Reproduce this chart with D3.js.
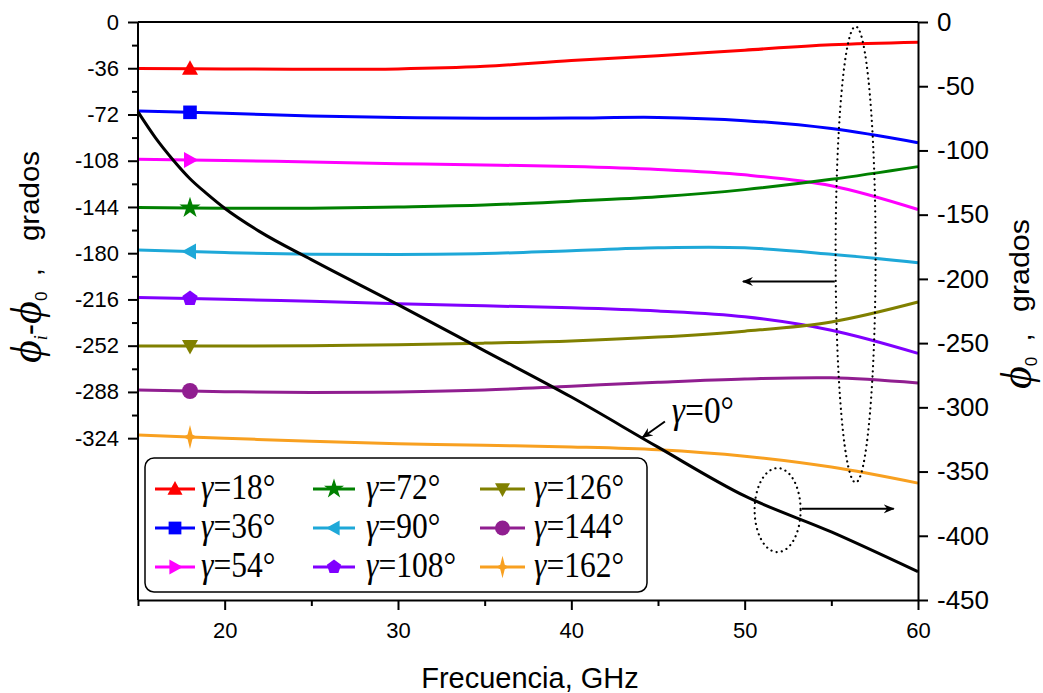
<!DOCTYPE html>
<html><head><meta charset="utf-8">
<script src="https://cdn.jsdelivr.net/npm/d3@7"></script>
<style>body{margin:0;background:#fff} .sf{font-family:"Liberation Serif","Times New Roman","DejaVu Serif",serif} .ss{font-family:"Liberation Sans",Arial,sans-serif}</style>
</head><body>
<svg id="c" width="1043" height="693"></svg>
<script>
// ---- data ----
const freq = [15,20,25,30,35,40,45,50,55,60];
const g18  = [-36.2,-36.5,-36.8,-36.5,-34.5,-30,-26.3,-21.9,-17.8,-15.8];
const g36  = [-69.3,-71,-73.2,-74.4,-75,-74.8,-74.3,-76.8,-83,-94];
const g54  = [-106.9,-107.8,-109,-110.3,-111.3,-112.5,-114.8,-119,-127.5,-146];
const g72  = [-144.5,-145,-145,-144,-142.5,-139.5,-136,-130.5,-122.5,-112.6];
const g90  = [-177.5,-179.5,-180.8,-181,-180.3,-178,-175.8,-175.8,-180.8,-187.4];
const g108 = [-214.4,-215.8,-217.5,-219.3,-221,-222.5,-225,-229.5,-240,-258];
const g126 = [-252.3,-252.3,-252,-251.3,-250,-248.3,-245.3,-240.7,-233.5,-218];
const g144 = [-286.5,-287.8,-288.5,-288,-286.5,-283.5,-280.5,-278,-277,-281];
const g162 = [-321.6,-324,-326.5,-328.3,-329.5,-330.8,-333,-338,-346.5,-359];
const freq0 = [15,16,17,18,19,20,22,25,30,35,40,45,50,55,60];
const g0    = [-70,-90,-107,-122,-134,-145,-163,-185,-220,-256,-292,-331,-369,-397,-428];
const seriesNames = ["18","36","54","72","90","108","126","144","162"];
const seriesColors = ["#ff0000","#0000ff","#ff00ff","#008000","#1ea8d8","#8000ff","#808000","#901e90","#f8a020"];
const seriesMarkers = ["triUp","square","triRight","star","triLeft","pentagon","triDown","circle","sparkle"];
const seriesValues = [g18,g36,g54,g72,g90,g108,g126,g144,g162];
const markerFreq = 18;
const leftTicks = [0,-36,-72,-108,-144,-180,-216,-252,-288,-324];
const rightTicks = [0,-50,-100,-150,-200,-250,-300,-350,-400,-450];
const xTicks = [20,30,40,50,60];
const xMinor = [15,25,35,45,55];

// ---- layout ----
const svg = d3.select("#c");
const L=138, R=918, T=22, B=600;
const x = d3.scaleLinear().domain([15,60]).range([L,R]);
const y = d3.scaleLinear().domain([-450,0]).range([B,T]);
const fmt = d => String(d);

function markerPath(type, r){
  const p = (pts)=>"M"+pts.map(q=>q[0].toFixed(2)+","+q[1].toFixed(2)).join("L")+"Z";
  switch(type){
    case "triUp": return p([[0,-r*1.05],[r,r*0.75],[-r,r*0.75]]);
    case "triDown": return p([[0,r*1.05],[r,-r*0.75],[-r,-r*0.75]]);
    case "triRight": return p([[r*1.05,0],[-r*0.75,-r],[-r*0.75,r]]);
    case "triLeft": return p([[-r*1.05,0],[r*0.75,-r],[r*0.75,r]]);
    case "square": {const s=r*0.85; return p([[-s,-s],[s,-s],[s,s],[-s,s]]);}
    case "pentagon": return p(d3.range(5).map(k=>{const a=-Math.PI/2+k*2*Math.PI/5;return [r*Math.cos(a),r*Math.sin(a)];}));
    case "circle": return d3.symbol(d3.symbolCircle, Math.PI*r*r)();
    case "star": return d3.symbol(d3.symbolStar, r*r*2.2)();
    case "sparkle": return p([[0,-r*1.5],[r*0.3,-r*0.3],[r*0.85,0],[r*0.3,r*0.3],[0,r*1.5],[-r*0.3,r*0.3],[-r*0.85,0],[-r*0.3,-r*0.3]]);
  }
}

const defs = svg.append("defs");
defs.append("marker").attr("id","ah").attr("viewBox","0 0 12 10").attr("refX",10).attr("refY",5)
  .attr("markerWidth",12).attr("markerHeight",10).attr("markerUnits","userSpaceOnUse").attr("orient","auto")
  .append("path").attr("d","M0,0.5 L11,5 L0,9.5 L3.5,5 Z").attr("fill","#000");

// ---- series lines ----
const line = d3.line().x(d=>x(d[0])).y(d=>y(d[1])).curve(d3.curveCatmullRom.alpha(0.5));
seriesValues.forEach((vals,i)=>{
  const pts = freq.map((f,j)=>[f,vals[j]]);
  svg.append("path").attr("d",line(pts)).attr("fill","none").attr("stroke",seriesColors[i]).attr("stroke-width",3);
});
const line0 = d3.line().x(d=>x(d[0])).y(d=>y(d[1])).curve(d3.curveMonotoneX);
svg.append("path").attr("d",line0(freq0.map((f,j)=>[f,g0[j]]))).attr("fill","none").attr("stroke","#000").attr("stroke-width",3);

seriesValues.forEach((vals,i)=>{
  const k = d3.bisectRight(freq, markerFreq)-1;
  const t = (markerFreq-freq[k])/(freq[k+1]-freq[k]);
  const v = vals[k]+(vals[k+1]-vals[k])*t;
  svg.append("path").attr("d",markerPath(seriesMarkers[i],8))
    .attr("transform",`translate(${x(markerFreq)},${y(v)})`).attr("fill",seriesColors[i]);
});

// ---- axes ----
function styleAxis(g, fs){
  g.attr("font-family",null).attr("font-size",null);
  g.select(".domain").attr("stroke","#000").attr("stroke-width",2);
  g.selectAll(".tick line").attr("stroke","#000").attr("stroke-width",2);
  g.selectAll(".tick text").attr("class","ss").style("font-size",fs+"px").attr("fill","#000");
}
const gl = svg.append("g").attr("transform",`translate(${L},0)`)
  .call(d3.axisLeft(y).tickValues(leftTicks).tickFormat(fmt).tickSize(10).tickPadding(9).tickSizeOuter(0));
styleAxis(gl,22);
gl.select(".domain").attr("d",`M0,${B}V${T}`);
const glm = svg.append("g").attr("transform",`translate(${L},0)`)
  .call(d3.axisLeft(y).tickValues(leftTicks.slice(0,-1).map(v=>v-18)).tickSize(6).tickFormat(""));
styleAxis(glm,22); glm.select(".domain").remove();

const gr = svg.append("g").attr("transform",`translate(${R},0)`)
  .call(d3.axisRight(y).tickValues(rightTicks).tickFormat(fmt).tickSize(10).tickPadding(9).tickSizeOuter(0));
styleAxis(gr,26);

const gb = svg.append("g").attr("transform",`translate(0,${B})`)
  .call(d3.axisBottom(x).tickValues(xTicks).tickFormat(fmt).tickSize(10).tickPadding(12).tickSizeOuter(0));
styleAxis(gb,22);
const gbm = svg.append("g").attr("transform",`translate(0,${B})`)
  .call(d3.axisBottom(x).tickValues(xMinor).tickSize(6).tickFormat(""));
styleAxis(gbm,22); gbm.select(".domain").remove();

svg.append("line").attr("x1",L).attr("x2",R).attr("y1",T).attr("y2",T).attr("stroke","#000").attr("stroke-width",2);

// ---- axis titles ----
svg.append("text").attr("class","ss").attr("x",530).attr("y",688).attr("text-anchor","middle")
  .style("font-size","29px").text("Frecuencia, GHz");

function phiTitle(tx,ty,gy,glen,withI){
  const t = svg.append("text").attr("transform",`translate(${tx},${ty}) rotate(-90)`).attr("text-anchor","start");
  const phi = ()=>t.append("tspan").attr("class","sf").style("font-style","italic").style("font-size","44px").text("\u03D5");
  if(withI){
    phi();
    t.append("tspan").attr("class","sf").style("font-style","italic").style("font-size","18px").attr("dy",6).text("i");
    t.append("tspan").attr("class","ss").style("font-size","34px").attr("dy",-6).text("-");
  }
  phi();
  t.append("tspan").attr("class","ss").style("font-size","17px").attr("dy",6).text("0");
  t.append("tspan").attr("class","ss").style("font-size","28px").attr("dy",-6).text("\u00A0\u00A0,");
  svg.append("text").attr("class","ss").attr("transform",`translate(${tx-2},${gy}) rotate(-90)`)
    .style("font-size","28px").attr("textLength",glen).attr("lengthAdjust","spacingAndGlyphs").text("grados");
}
phiTitle(41,363,241,90,true);
phiTitle(1031,389,312,93,false);

// ---- legend ----
svg.append("rect").attr("x",145).attr("y",458).attr("width",502).attr("height",134).attr("rx",9)
  .attr("fill","#fff").attr("stroke","#000").attr("stroke-width",1.5);
const colX = [[155,195,201],[313,355,366],[480,525,534]];
const rowY = [489,528,567];
seriesNames.forEach((n,i)=>{
  const c = Math.floor(i/3), r = i%3;
  const [x1,x2,tx] = colX[c]; const yy = rowY[r];
  svg.append("line").attr("x1",x1).attr("x2",x2).attr("y1",yy).attr("y2",yy).attr("stroke",seriesColors[i]).attr("stroke-width",3);
  svg.append("path").attr("d",markerPath(seriesMarkers[i],7.5)).attr("transform",`translate(${(x1+x2)/2},${yy})`).attr("fill",seriesColors[i]);
  const t = svg.append("text").attr("class","sf").attr("transform",`translate(${tx},${yy+10}) scale(0.9,1)`).style("font-size","35px");
  t.append("tspan").style("font-style","italic").text("\u03B3");
  t.append("tspan").text("="+n+"\u00B0");
});

// ---- annotations ----
const a0 = svg.append("text").attr("class","sf").attr("transform",`translate(${x(45.8)},${y(-312)}) scale(0.88,1)`).style("font-size","38px");
a0.append("tspan").style("font-style","italic").text("\u03B3");
a0.append("tspan").text("=0\u00B0");
svg.append("line").attr("x1",x(45.4)).attr("y1",y(-311)).attr("x2",x(44.1)).attr("y2",y(-323.5))
  .attr("stroke","#000").attr("stroke-width",2).attr("marker-end","url(#ah)");

const dots = {fill:"none",stroke:"#000","stroke-width":2.2,"stroke-dasharray":"0.1,5.2","stroke-linecap":"round"};
const e1 = svg.append("ellipse").attr("cx",x(56.4)).attr("cy",y(-181)).attr("rx",20).attr("ry",228);
const e2 = svg.append("ellipse").attr("cx",x(51.9)).attr("cy",y(-380)).attr("rx",23).attr("ry",42);
[e1,e2].forEach(e=>Object.entries(dots).forEach(([k,v])=>e.attr(k,v)));

svg.append("line").attr("x1",x(55.2)).attr("y1",y(-202)).attr("x2",x(49.9)).attr("y2",y(-202))
  .attr("stroke","#000").attr("stroke-width",2).attr("marker-end","url(#ah)");
svg.append("line").attr("x1",x(53.3)).attr("y1",y(-379)).attr("x2",x(58.6)).attr("y2",y(-379))
  .attr("stroke","#000").attr("stroke-width",2).attr("marker-end","url(#ah)");
</script>
</body></html>
